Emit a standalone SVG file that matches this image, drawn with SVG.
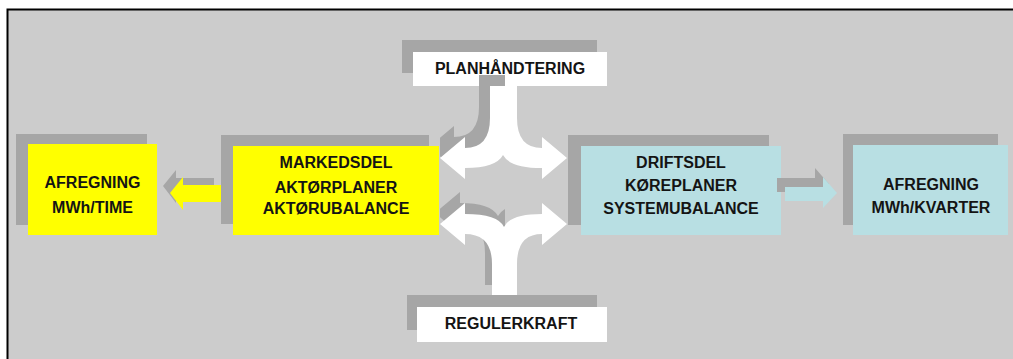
<svg xmlns="http://www.w3.org/2000/svg" width="1013" height="359" viewBox="0 0 1013 359">
<style>
.sh{fill:#a6a6a6}
.yl{fill:#ffff00}
.bl{fill:#b8dfe3}
.wt{fill:#ffffff}
.t{font-family:"Liberation Sans",Arial,sans-serif;font-weight:bold;font-size:16px;fill:#141414;text-anchor:middle}
</style>
<defs>
<clipPath id="leftHalf"><rect x="440" y="0" width="65" height="359"/></clipPath>
</defs>
<rect x="0" y="0" width="1013" height="359" fill="#ffffff"/>
<rect x="8" y="10" width="1005" height="349" fill="#cccccc"/>
<path d="M7.5 359 V9.5 H1013" fill="none" stroke="#000" stroke-width="2"/>
<g id="afregning-time">
<rect class="sh" x="16" y="134" width="131" height="91"/>
<rect class="yl" x="28" y="144" width="129" height="91"/>
<text class="t" x="92.5" y="188">AFREGNING</text>
<text class="t" x="92.5" y="213">MWh/TIME</text>
</g>
<g id="markedsdel">
<rect class="sh" x="221" y="135" width="208" height="89"/>
<rect class="yl" x="233" y="146" width="206" height="89"/>
<text class="t" x="336" y="168">MARKEDSDEL</text>
<text class="t" x="336" y="193">AKTØRPLANER</text>
<text class="t" x="336" y="214">AKTØRUBALANCE</text>
</g>
<g id="driftsdel">
<rect class="sh" x="568" y="135" width="201" height="90"/>
<rect class="bl" x="581" y="146" width="200" height="89"/>
<text class="t" x="681" y="168">DRIFTSDEL</text>
<text class="t" x="681" y="191">KØREPLANER</text>
<text class="t" x="681" y="214">SYSTEMUBALANCE</text>
</g>
<g id="afregning-kvarter">
<rect class="sh" x="843" y="134" width="155" height="91"/>
<rect class="bl" x="853" y="145" width="155" height="90"/>
<text class="t" x="931" y="190">AFREGNING</text>
<text class="t" x="931" y="213">MWh/KVARTER</text>
</g>
<g id="planhaandtering">
<rect class="sh" x="402" y="40" width="195" height="33"/>
<rect class="wt" x="413" y="52" width="194" height="34"/>
<text class="t" x="510" y="74">PLANHÅNDTERING</text>
</g>
<g id="regulerkraft">
<rect class="sh" x="407" y="295" width="190" height="35"/>
<rect class="wt" x="417" y="307" width="190" height="35"/>
<text class="t" x="511" y="329">REGULERKRAFT</text>
</g>
<g id="connectors">
<path class="sh" d="M214 178 H176 V170 L163 186 L176 203 V195 H214 Z"/>
<path class="yl" d="M221 185 H183 V177 L170 193 L183 210 V202 H221 Z"/>
<path class="sh" d="M777 178 H815 V168 L829 184 L815 199 V192 H777 Z"/>
<path class="bl" d="M785 187 H823 V177 L837 193 L823 208 V201 H785 Z"/>
<g clip-path="url(#leftHalf)">
<path class="sh" transform="translate(-11,-11)" d="M490 86 L517 86 L517 118 Q517 148 542 148 L542 137 L567 158 L542 179 L542 168 Q510 168 503 155 Q496 168 465 168 L465 179 L440 158 L465 137 L465 148 Q490 148 490 118 Z"/>
<path class="sh" transform="translate(-5,-11)" d="M490 296 L517 296 L517 264 Q517 234 542 234 L542 245 L567 224 L542 203 L542 214 Q510 214 503 227 Q496 214 465 214 L465 203 L440 224 L465 245 L465 234 Q490 234 490 264 Z"/>
</g>
<path class="wt" d="M490 86 L517 86 L517 118 Q517 148 542 148 L542 137 L567 158 L542 179 L542 168 Q510 168 503 155 Q496 168 465 168 L465 179 L440 158 L465 137 L465 148 Q490 148 490 118 Z"/>
<path class="wt" d="M492 295 L517 295 L517 264 Q517 234 542 234 L542 245 L567 224 L542 203 L542 214 Q510 214 504 227 Q498 214 465 214 L465 203 L440 224 L465 245 L465 234 Q492 234 492 264 Z"/>
</g>
</svg>
